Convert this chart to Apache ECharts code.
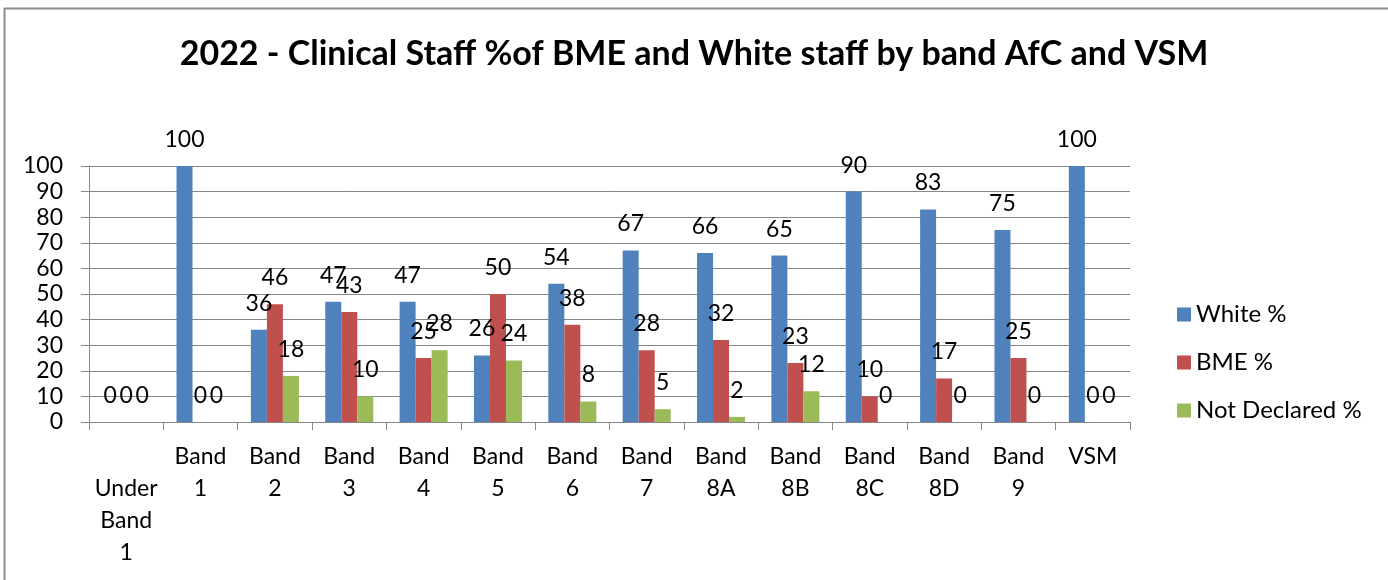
<!DOCTYPE html>
<html>
<head>
<meta charset="utf-8">
<script src="https://cdn.jsdelivr.net/npm/echarts@6/dist/echarts.min.js"></script>
<style>
  html, body { margin: 0; padding: 0; background: #fff; }
  #chart { width: 1388px; height: 580px; }
</style>
</head>
<body>
<div id="chart"></div>
<script>
// Pay bands (Agenda for Change) plus Very Senior Managers
const bands = ['Under Band 1', 'Band 1', 'Band 2', 'Band 3', 'Band 4', 'Band 5', 'Band 6',
               'Band 7', 'Band 8A', 'Band 8B', 'Band 8C', 'Band 8D', 'Band 9', 'VSM'];
const whitePct       = [0, 100, 36, 47, 47, 26, 54, 67, 66, 65, 90, 83, 75, 100];
const bmePct         = [0, 0, 46, 43, 25, 50, 38, 28, 32, 23, 10, 17, 25, 0];
const notDeclaredPct = [0, 0, 18, 10, 28, 24, 8, 5, 2, 12, 0, 0, 0, 0];
const yTicks = [0, 10, 20, 30, 40, 50, 60, 70, 80, 90, 100];

const FONT = 'Lato, "Open Sans", sans-serif';
const GRID_GRAY = '#868686';

const chart = echarts.init(document.getElementById('chart'), null, { renderer: 'canvas' });

function barSeries(name, data, color) {
  return {
    name: name,
    type: 'bar',
    data: data,
    barWidth: 16,
    barGap: '0%',
    itemStyle: { color: color },
    label: {
      show: true,
      position: 'top',
      distance: 15,
      color: '#000',
      fontFamily: FONT,
      fontSize: 23,
      lineHeight: 23
    }
  };
}

chart.setOption({
  animation: false,
  backgroundColor: '#fff',
  title: {
    text: '2022 - Clinical Staff %of BME and White staff by band AfC and VSM',
    left: 'center',
    top: 32,
    textStyle: { fontFamily: FONT, fontWeight: 'bold', fontSize: 34, color: '#000' }
  },
  legend: {
    orient: 'vertical',
    left: 1172,
    top: 297,
    itemWidth: 14,
    itemHeight: 14,
    itemGap: 23,
    icon: 'rect',
    textStyle: { fontFamily: FONT, fontSize: 24, lineHeight: 25, color: '#000' },
    data: ['White %', 'BME %', 'Not Declared %']
  },
  grid: { left: 89, right: 258, top: 166, bottom: 158 },
  xAxis: {
    type: 'category',
    data: bands,
    axisLine: { lineStyle: { color: GRID_GRAY, width: 1 } },
    axisTick: { show: true, length: 8, lineStyle: { color: GRID_GRAY } },
    axisLabel: {
      interval: 0,
      margin: 19,
      color: '#000',
      fontFamily: FONT,
      fontSize: 23,
      lineHeight: 32,
      formatter: function (v) {
        const parts = v.split(' ');
        return (parts.length > 2 ? '\n' : '') + parts.join('\n');
      }
    }
  },
  yAxis: {
    type: 'value',
    min: yTicks[0],
    max: yTicks[yTicks.length - 1],
    interval: yTicks[1] - yTicks[0],
    axisLine: { show: true, lineStyle: { color: GRID_GRAY, width: 1 } },
    axisTick: { show: true, length: 8, lineStyle: { color: GRID_GRAY } },
    splitLine: { show: true, lineStyle: { color: GRID_GRAY, width: 1 } },
    axisLabel: { margin: 26, color: '#000', fontFamily: FONT, fontSize: 23 }
  },
  graphic: [{
    type: 'rect',
    shape: { x: 4.5, y: 8.5, width: 1500, height: 700 },
    style: { fill: 'none', stroke: '#8c8c8c', lineWidth: 2 },
    silent: true
  }],
  series: [
    barSeries('White %', whitePct, '#4F81BD'),
    barSeries('BME %', bmePct, '#C0504D'),
    barSeries('Not Declared %', notDeclaredPct, '#9BBB59')
  ]
});
</script>
</body>
</html>
